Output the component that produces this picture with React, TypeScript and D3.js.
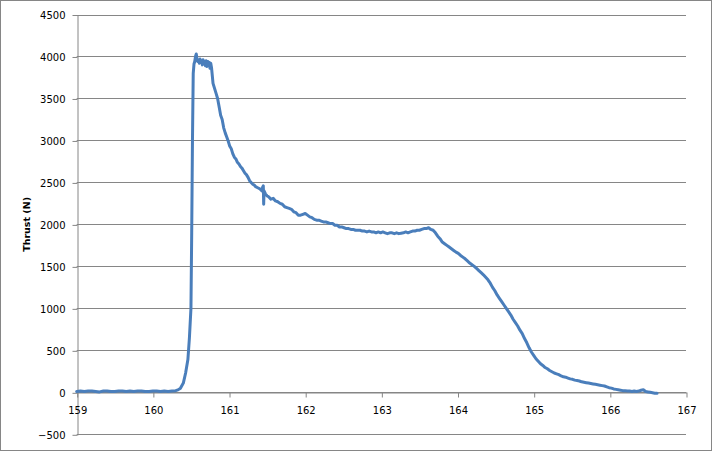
import React, { useEffect, useRef } from 'react';
import * as d3 from 'd3';

// thrust curve (time in s, thrust in N)
const time = [
  159.00, 159.05, 159.10, 159.15, 159.20, 159.25, 159.30, 159.35, 159.40, 159.45,
  159.50, 159.55, 159.60, 159.65, 159.70, 159.75, 159.80, 159.85, 159.90, 159.95,
  160.00, 160.05, 160.10, 160.15, 160.20, 160.25, 160.30,
  160.33, 160.36, 160.40, 160.43, 160.46, 160.48, 160.50, 160.51, 160.52, 160.53, 160.54, 160.55,
  160.56, 160.57, 160.58, 160.59, 160.60, 160.61, 160.62, 160.63, 160.64, 160.65,
  160.66, 160.67, 160.68, 160.69, 160.70, 160.71, 160.72, 160.73, 160.74, 160.75, 160.76, 160.77,
  160.79, 160.81, 160.83, 160.85, 160.87, 160.89, 160.91, 160.93, 160.95, 160.97,
  160.99, 161.01, 161.03, 161.05, 161.07, 161.09, 161.11, 161.13, 161.15, 161.17,
  161.19, 161.21, 161.23, 161.25, 161.27, 161.29, 161.31, 161.33, 161.35, 161.37,
  161.39, 161.41, 161.43, 161.44, 161.45, 161.455, 161.46, 161.48, 161.50, 161.52,
  161.55, 161.58, 161.61, 161.64, 161.67, 161.70, 161.73, 161.76, 161.79, 161.82,
  161.85, 161.88, 161.91, 161.94, 161.97, 162.00, 162.03, 162.06, 162.09, 162.12,
  162.15, 162.18, 162.21, 162.24, 162.27, 162.30, 162.33, 162.36, 162.39, 162.42,
  162.45, 162.48, 162.51, 162.54, 162.57, 162.60, 162.63, 162.66, 162.69, 162.72,
  162.75, 162.78, 162.81, 162.84, 162.87, 162.90, 162.93, 162.96, 162.99, 163.02,
  163.05, 163.08, 163.11, 163.14, 163.17, 163.20, 163.23, 163.26, 163.29, 163.32,
  163.35, 163.38, 163.41, 163.44, 163.47, 163.50, 163.53, 163.56, 163.59, 163.62,
  163.65, 163.68, 163.71, 163.74, 163.77, 163.80, 163.83, 163.86, 163.89, 163.92,
  163.95, 163.98, 164.01, 164.04, 164.07, 164.10, 164.13, 164.16, 164.19, 164.22,
  164.25, 164.28, 164.31, 164.34, 164.37, 164.40, 164.43, 164.46, 164.49, 164.52,
  164.55, 164.58, 164.61, 164.64, 164.67, 164.70, 164.73, 164.76, 164.79, 164.82,
  164.85, 164.88, 164.91, 164.94, 164.97, 165.00, 165.03, 165.06, 165.09, 165.12,
  165.15, 165.18, 165.21, 165.24, 165.27, 165.30, 165.33, 165.36, 165.39, 165.42,
  165.45, 165.48, 165.51, 165.54, 165.57, 165.60, 165.63, 165.66, 165.69, 165.72,
  165.75, 165.78, 165.81, 165.84, 165.87, 165.90, 165.93, 165.96, 165.99, 166.02,
  166.05, 166.08, 166.11, 166.14, 166.17, 166.20, 166.23, 166.26, 166.29, 166.32,
  166.35, 166.38, 166.41, 166.44, 166.47, 166.50, 166.53, 166.56, 166.59, 166.62
];

const thrust = [
  10, 15, 10, 15, 15, 10, 5, 15, 15, 10,
  10, 15, 15, 10, 15, 10, 15, 15, 10, 10,
  15, 15, 10, 15, 10, 15, 20,
  30, 45, 110, 230, 390, 650, 1000, 1900, 3000, 3800, 3910, 3940,
  4000, 4030, 3970, 3940, 3960, 3920, 3970, 3930, 3950, 3900,
  3960, 3910, 3940, 3890, 3950, 3880, 3940, 3900, 3930, 3860, 3920, 3870,
  3680, 3620, 3560, 3500, 3400, 3300, 3250, 3150, 3090, 3040,
  2990, 2930, 2900, 2840, 2800, 2780, 2740, 2720, 2690, 2670,
  2640, 2610, 2590, 2560, 2520, 2500, 2480, 2470, 2450, 2440,
  2430, 2420, 2400, 2440, 2460, 2240, 2400, 2360, 2340, 2330,
  2300, 2310, 2280, 2270, 2250, 2240, 2210, 2200, 2190, 2180,
  2150, 2140, 2110, 2110, 2120, 2130, 2110, 2090, 2080, 2060,
  2050, 2050, 2040, 2030, 2030, 2020, 2010, 2010, 1990, 1990,
  1970, 1970, 1960, 1950, 1950, 1940, 1940, 1930, 1930, 1930,
  1920, 1920, 1910, 1920, 1910, 1910, 1900, 1910, 1900, 1910,
  1900, 1890, 1900, 1900, 1890, 1900, 1890, 1895, 1900, 1910,
  1900, 1910, 1920, 1920, 1930, 1930, 1940, 1950, 1950, 1960,
  1940, 1930, 1900, 1860, 1830, 1790, 1770, 1750, 1730, 1710,
  1690, 1670, 1655, 1630, 1610, 1590, 1565, 1540, 1520, 1500,
  1475, 1450, 1425, 1400, 1370, 1340, 1300, 1250, 1210, 1160,
  1120, 1080, 1040, 1000, 960, 920, 870, 830, 790, 740,
  700, 640, 590, 530, 480, 440, 400, 370, 340, 320,
  295, 280, 260, 245, 230, 220, 210, 195, 185, 180,
  170, 160, 155, 145, 140, 135, 125, 120, 115, 110,
  105, 100, 95, 90, 85, 80, 75, 65, 55, 50,
  40, 35, 30, 25, 20, 20, 15, 15, 10, 15,
  10, 15, 25, 30, 10, 5, 0, -5, -10, -10
];

const xTicks = [159, 160, 161, 162, 163, 164, 165, 166, 167];
const yTicks = [-500, 0, 500, 1000, 1500, 2000, 2500, 3000, 3500, 4000, 4500];

const W = 712;
const H = 451;
const grey = '#868686';
const font = '"DejaVu Sans", Verdana, sans-serif';

const App = () => {
  const svgRef = useRef<SVGSVGElement>(null);

  useEffect(() => {
    document.body.style.margin = '0';
    const svg = d3.select(svgRef.current);
    svg.selectAll('*').remove();

    const left = 76.7, right = 686, top = 14.5, bottom = 434.3;
    const x = d3.scaleLinear().domain([159, 167]).range([left, right]);
    const y = d3.scaleLinear().domain([-500, 4500]).range([bottom, top]);

    svg.append('rect')
      .attr('x', 0.5).attr('y', 0.5)
      .attr('width', W - 1).attr('height', H - 1)
      .attr('fill', '#fff').attr('stroke', grey);

    // horizontal gridlines
    svg.append('g')
      .selectAll('line')
      .data(yTicks)
      .join('line')
      .attr('x1', left).attr('x2', right)
      .attr('y1', d => Math.round(y(d)) + 0.5).attr('y2', d => Math.round(y(d)) + 0.5)
      .attr('stroke', grey);

    // y axis
    const yAxis = d3.axisLeft(y).tickValues(yTicks).tickFormat(d3.format('d'))
      .tickSizeInner(5).tickSizeOuter(0).tickPadding(7);
    const gy = svg.append('g')
      .attr('transform', `translate(${Math.round(left) + 0.5},0.5)`)
      .call(yAxis);
    gy.select('.domain').attr('stroke', grey);
    gy.selectAll('.tick line').attr('stroke', grey);
    gy.selectAll('.tick text')
      .attr('fill', '#000')
      .style('font-family', font)
      .style('font-size', '10px');

    // x axis on the zero line
    const xAxis = d3.axisBottom(x).tickValues(xTicks).tickFormat(d3.format('d'))
      .tickSizeInner(5).tickSizeOuter(0).tickPadding(9);
    const gx = svg.append('g')
      .attr('transform', `translate(0.5,${Math.round(y(0)) + 0.5})`)
      .call(xAxis);
    gx.select('.domain').attr('stroke', grey);
    gx.selectAll('.tick line').attr('stroke', grey);
    gx.selectAll('.tick text')
      .attr('fill', '#000')
      .style('font-family', font)
      .style('font-size', '10px');

    const line = d3.line<number>()
      .x((_, i) => x(time[i]))
      .y(d => y(d));

    svg.append('path')
      .datum(thrust)
      .attr('d', line)
      .attr('fill', 'none')
      .attr('stroke', '#4a7ebb')
      .attr('stroke-width', 3)
      .attr('stroke-linejoin', 'round')
      .attr('stroke-linecap', 'round');

    svg.append('text')
      .attr('transform', `translate(30,${(top + bottom) / 2}) rotate(-90)`)
      .attr('text-anchor', 'middle')
      .style('font-family', font)
      .style('font-size', '9.5px')
      .style('font-weight', 'bold')
      .text('Thrust (N)');
  }, []);

  return <svg ref={svgRef} width={W} height={H} style={{ display: 'block' }}></svg>;
};

export default App;
